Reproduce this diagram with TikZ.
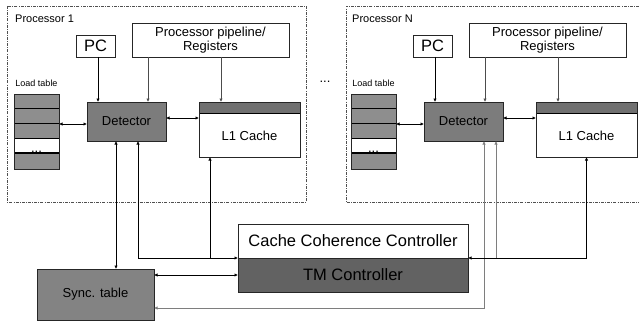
\documentclass[tikz,border=0pt]{standalone}
\usepackage{fontspec}
\setmainfont{Liberation Sans}
\usetikzlibrary{arrows.meta}
\definecolor{detgray}{HTML}{7C7C7C}
\definecolor{tmgray}{HTML}{626262}
\definecolor{syncgray}{HTML}{838383}
\definecolor{rowgray}{HTML}{8E8E8E}
\definecolor{bandgray}{HTML}{707070}
\definecolor{framegray}{HTML}{505050}
\definecolor{linegray}{HTML}{7E7E7E}
\newcommand{\fs}[1]{\fontsize{#1}{#1}\selectfont}
\tikzset{
  box/.style={draw=black!85, line width=0.8pt, inner sep=0pt, outer sep=0pt},
  procframe/.style={draw=framegray, line width=0.7pt, dash pattern=on 3pt off 1.2pt on 0.8pt off 1.2pt},
  arr/.style={line width=0.7pt, -{Latex[length=3.5pt,width=3.5pt]}},
  darr/.style={line width=0.7pt, {Latex[length=3.5pt,width=3.5pt]}-{Latex[length=3.5pt,width=3.5pt]}},
}
\newcommand{\procblock}[3]{%
\begin{scope}[xshift=#2]
  \node[anchor=west, inner sep=0pt, font=\fs{11}] (plab#1) at (15,19) {#3};
  \node[box, minimum width=39, minimum height=22, font=\fs{16.5}] (pc#1) at (95.5,46) {PC};
  \node[box, minimum width=157, minimum height=34, font=\fs{13}, align=center] (pipe#1) at (210.5,40) {Processor pipeline/\\[1pt]Registers};
  \node[inner sep=0pt, font=\fs{9}] (ltlab#1) at (36.5,83) {Load table};
  \fill[rowgray] (14,94) rectangle (59,138);
  \fill[rowgray] (14,153) rectangle (59,169);
  \draw[line width=0.8pt] (14,108) -- (59,108) (14,123) -- (59,123) (14,138) -- (59,138);
  \draw[line width=1.5pt] (14,153) -- (59,153);
  \node[anchor=base, inner sep=0pt, font=\fs{13}] (ltdots#1) at (36.5,152.5) {...};
  \node[box, minimum width=45, minimum height=75] (lt#1) at (36.5,131.5) {};
  \node[box, fill=detgray, minimum width=79, minimum height=39, font=\fs{13}] (det#1) at (126.5,121.5) {Detector};
  \node[box, minimum width=101, minimum height=55] (l1#1) at (249.5,129.5) {};
  \fill[bandgray] (199,102) rectangle (300,113);
  \draw[line width=0.8pt] (199,113) -- (300,113);
  \node[box, minimum width=101, minimum height=55] at (249.5,129.5) {};
  \node[inner sep=0pt, font=\fs{13}] (l1lab#1) at (249.5,136) {L1 Cache};
  \draw[arr] ([xshift=2.5]pc#1.south) -- ([xshift=2.5]pc#1.south |- det#1.north);
  \coordinate (pa#1) at ([xshift=-62.5]pipe#1.south);
  \coordinate (pb#1) at ([xshift=10.5]pipe#1.south);
  \draw[arr, draw=black!70] (pa#1) -- (pa#1 |- det#1.north);
  \draw[arr, draw=black!70] (pb#1) -- (pb#1 |- l1#1.north);
  \coordinate (lc#1) at ([yshift=-2.5]det#1.west);
  \draw[darr] (lt#1.east |- lc#1) -- (lc#1);
  \coordinate (dc#1) at ([yshift=3.5]det#1.east);
  \draw[darr] (dc#1) -- (dc#1 -| l1#1.west);
\end{scope}}
\begin{document}
\begin{tikzpicture}[x=1pt,y=-1pt]
\useasboundingbox (0,0) rectangle (639,321);
% frames
\draw[procframe] (7,6) rectangle (306,202);
\draw[procframe] (639,6) -- (346,6) -- (346,202) -- (639,202);
\procblock{1}{0}{Processor 1}
\procblock{N}{337}{Processor N}
\node[anchor=base, inner sep=0pt, font=\fs{13}] (midots) at (325,82) {...};
% controllers
\node[box, minimum width=230, minimum height=34, font=\fs{16.5}] (ccc) at (353,241) {Cache Coherence Controller};
\node[box, fill=tmgray, minimum width=230, minimum height=34, font=\fs{16.5}] (tm) at (353,275) {TM Controller};
\node[box, fill=syncgray, minimum width=117, minimum height=51, font=\fs{13}] (sync) at (95.5,294.5) {Sync. table};
% processor 1 connections
\coordinate (d1a) at ([xshift=-10.5]det1.south);
\coordinate (d1b) at ([xshift=11.5]det1.south);
\coordinate (l1b) at ([xshift=-39.5]l11.south);
\draw[darr] (d1a) -- (d1a |- sync.north);
\draw[darr] (d1b) -- (d1b |- tm.north west) -- (tm.north west);
\draw[arr] (l1b |- tm.north west) -- (l1b);
\draw[darr] (sync.east |- tm.west) -- (tm.west);
% processor N connections
\coordinate (dNa) at ([xshift=20.5]detN.south);
\coordinate (dNb) at ([xshift=32.5]detN.south);
\coordinate (sy) at ([yshift=-13.5]sync.east);
\draw[darr, draw=linegray, line width=1pt] (dNa) -- (dNa |- sy) -- (sy);
\draw[arr, draw=linegray, line width=1pt] (dNb |- tm.north east) -- (dNb);
\draw[darr] (l1N.south) -- (l1N.south |- tm.north east) -- (tm.north east);
\end{tikzpicture}
\end{document}
